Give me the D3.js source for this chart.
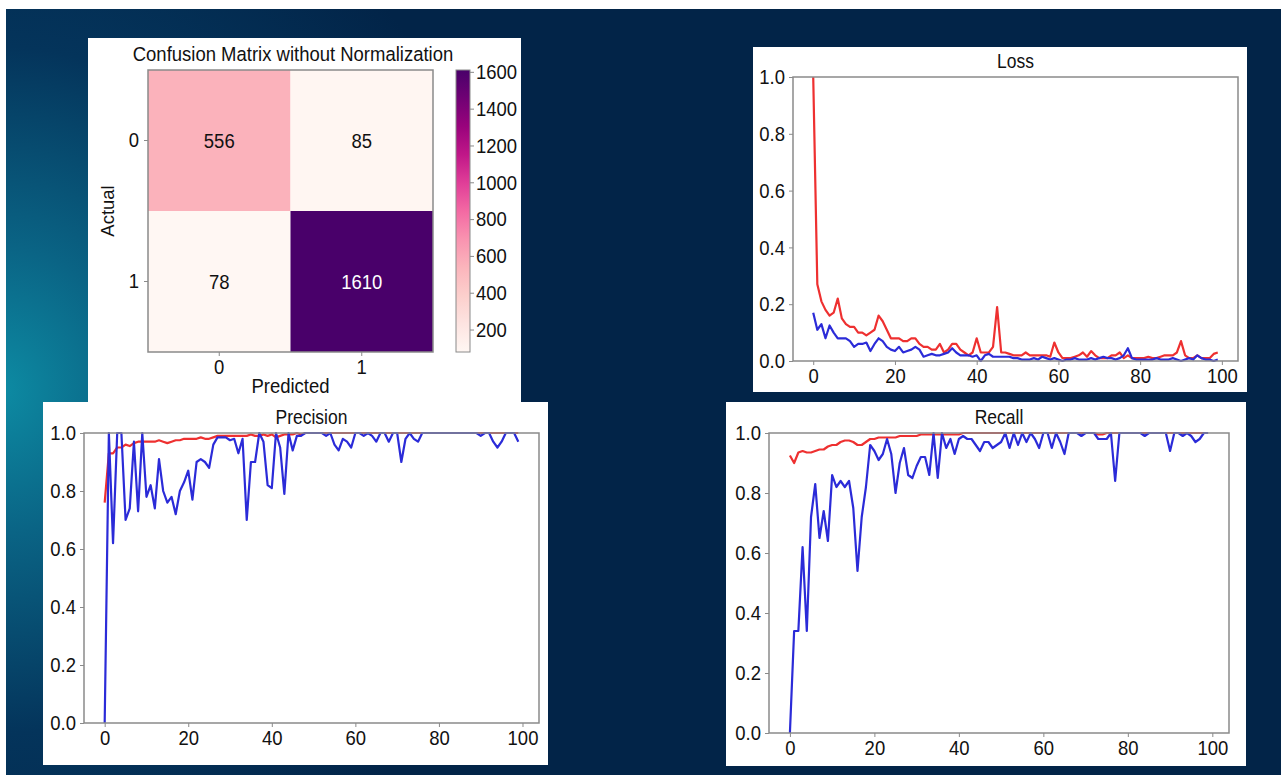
<!DOCTYPE html>
<html lang="en">
<head>
    <meta charset="UTF-8">
    <title>Model metrics</title>
    <script src="https://d3js.org/d3.v7.min.js"></script>
    <style>
        body { margin: 0; padding: 0; background: #fff; }
        svg text { font-family: "Liberation Sans", Arial, sans-serif; fill: #111; }
        /* the source picture is slightly stretched vertically */
        svg text:not(.rot) { transform-box: fill-box; transform-origin: center; transform: scaleY(1.12); }
        .frame { fill: none; stroke: #8a8a8a; stroke-width: 1.5px; }
        .tick line { stroke: #8a8a8a; }
        .domain { display: none; }
    </style>
</head>
<body>
<div id="chart"></div>
<script>
    // confusion matrix
    const cmLabels = ["0", "1"];
    const cmValues = [[556, 85], [78, 1610]];
    const cbTicks = [200, 400, 600, 800, 1000, 1200, 1400, 1600];

    // training curves, epochs 0..99
    const epochs = d3.range(100);
    const xTicks = [0, 20, 40, 60, 80, 100];
    const yTicks = [0, 0.2, 0.4, 0.6, 0.8, 1.0];

    const lossTrain = [1.0, 0.27, 0.21, 0.18, 0.16, 0.17, 0.22, 0.15, 0.13, 0.12,
        0.12, 0.10, 0.10, 0.09, 0.10, 0.11, 0.16, 0.14, 0.11, 0.08,
        0.08, 0.08, 0.07, 0.07, 0.08, 0.08, 0.06, 0.05, 0.05, 0.04,
        0.04, 0.06, 0.03, 0.04, 0.06, 0.06, 0.04, 0.03, 0.02, 0.03,
        0.08, 0.03, 0.03, 0.03, 0.05, 0.19, 0.03, 0.03, 0.025, 0.02,
        0.02, 0.02, 0.03, 0.02, 0.02, 0.02, 0.02, 0.02, 0.015, 0.065,
        0.03, 0.01, 0.01, 0.01, 0.015, 0.02, 0.03, 0.015, 0.035, 0.02,
        0.01, 0.01, 0.01, 0.02, 0.02, 0.03, 0.01, 0.02, 0.01, 0.01,
        0.01, 0.01, 0.015, 0.01, 0.01, 0.015, 0.02, 0.02, 0.02, 0.03,
        0.07, 0.02, 0.01, 0.01, 0.02, 0.01, 0.01, 0.01, 0.025, 0.03];
    const lossVal = [0.17, 0.11, 0.13, 0.08, 0.125, 0.10, 0.08, 0.08, 0.08, 0.07,
        0.05, 0.06, 0.06, 0.065, 0.035, 0.06, 0.08, 0.07, 0.05, 0.04,
        0.035, 0.05, 0.03, 0.035, 0.04, 0.05, 0.04, 0.015, 0.02, 0.025,
        0.02, 0.02, 0.025, 0.03, 0.045, 0.03, 0.02, 0.02, 0.02, 0.015,
        0.02, 0.0, 0.02, 0.025, 0.015, 0.015, 0.015, 0.015, 0.015, 0.01,
        0.01, 0.005, 0.005, 0.005, 0.01, 0.005, 0.015, 0.01, 0.005, 0.01,
        0.005, 0.0, 0.005, 0.005, 0.01, 0.005, 0.005, 0.005, 0.01, 0.005,
        0.01, 0.015, 0.01, 0.01, 0.005, 0.01, 0.02, 0.045, 0.01, 0.005,
        0.005, 0.005, 0.005, 0.005, 0.01, 0.005, 0.005, 0.005, 0.01, 0.005,
        0.0, 0.005, 0.01, 0.005, 0.02, 0.01, 0.005, 0.005, 0.0, 0.005];

    const precTrain = [0.76, 0.93, 0.93, 0.95, 0.95, 0.96, 0.955, 0.965, 0.97, 0.97,
        0.97, 0.97, 0.97, 0.975, 0.97, 0.965, 0.97, 0.975, 0.975, 0.98,
        0.98, 0.98, 0.98, 0.985, 0.98, 0.98, 0.985, 0.99, 0.99, 0.99,
        0.99, 0.99, 0.99, 0.99, 0.99, 0.995, 0.99, 0.99, 0.995, 0.99,
        0.995, 0.985, 0.99, 0.995, 0.995, 0.995, 1.0, 0.995, 1.0, 1.0,
        1.0, 1.0, 1.0, 1.0, 1.0, 1.0, 1.0, 1.0, 1.0, 1.0,
        1.0, 1.0, 1.0, 1.0, 1.0, 1.0, 1.0, 1.0, 1.0, 1.0,
        1.0, 1.0, 1.0, 1.0, 1.0, 1.0, 1.0, 1.0, 1.0, 1.0,
        1.0, 1.0, 1.0, 1.0, 1.0, 1.0, 1.0, 1.0, 1.0, 1.0,
        1.0, 1.0, 1.0, 1.0, 1.0, 1.0, 1.0, 1.0, 1.0, 1.0];
    const precVal = [0.0, 1.0, 0.62, 1.0, 1.0, 0.70, 0.74, 0.97, 0.73, 1.0,
        0.78, 0.82, 0.74, 0.91, 0.80, 0.76, 0.78, 0.72, 0.80, 0.83,
        0.87, 0.77, 0.90, 0.91, 0.90, 0.88, 0.96, 0.985, 0.985, 0.985,
        0.975, 0.98, 0.93, 0.98, 0.70, 0.90, 0.90, 1.0, 0.97, 0.82,
        0.81, 1.0, 0.95, 0.79, 1.0, 0.94, 0.99, 0.99, 1.0, 1.0,
        1.0, 1.0, 1.0, 0.99, 1.0, 0.96, 0.94, 0.98, 0.97, 0.95,
        1.0, 1.0, 0.99, 1.0, 0.99, 0.97, 1.0, 1.0, 0.97, 1.0,
        1.0, 0.90, 0.98, 1.0, 0.98, 0.97, 1.0, 1.0, 1.0, 1.0,
        1.0, 1.0, 1.0, 1.0, 1.0, 1.0, 1.0, 1.0, 1.0, 1.0,
        0.99, 1.0, 1.0, 0.97, 0.95, 0.97, 1.0, 1.0, 1.0, 0.97];

    const recTrain = [0.925, 0.90, 0.935, 0.94, 0.935, 0.935, 0.94, 0.945, 0.945, 0.955,
        0.96, 0.96, 0.97, 0.975, 0.975, 0.97, 0.96, 0.96, 0.97, 0.98,
        0.98, 0.985, 0.985, 0.985, 0.985, 0.985, 0.99, 0.99, 0.99, 0.99,
        0.99, 0.995, 0.995, 0.995, 0.995, 0.995, 0.995, 0.995, 0.995, 0.995,
        0.995, 1.0, 1.0, 1.0, 1.0, 1.0, 1.0, 1.0, 1.0, 1.0,
        1.0, 1.0, 1.0, 1.0, 1.0, 1.0, 1.0, 1.0, 1.0, 1.0,
        1.0, 1.0, 1.0, 1.0, 1.0, 1.0, 1.0, 1.0, 1.0, 1.0,
        1.0, 1.0, 1.0, 0.995, 0.995, 1.0, 1.0, 1.0, 1.0, 1.0,
        1.0, 1.0, 1.0, 1.0, 1.0, 1.0, 1.0, 1.0, 1.0, 1.0,
        1.0, 1.0, 1.0, 1.0, 1.0, 1.0, 1.0, 1.0, 1.0, 1.0];
    const recVal = [0.0, 0.34, 0.34, 0.62, 0.34, 0.72, 0.83, 0.65, 0.74, 0.64,
        0.86, 0.82, 0.84, 0.82, 0.84, 0.75, 0.54, 0.72, 0.82, 0.96,
        0.94, 0.91, 0.93, 0.98, 0.93, 0.80, 0.90, 0.95, 0.86, 0.85,
        0.89, 0.92, 0.92, 0.86, 1.0, 0.85, 1.0, 0.95, 0.98, 0.93,
        0.98, 0.99, 0.98, 0.98, 0.96, 0.94, 0.97, 0.97, 0.95, 0.96,
        0.97, 1.0, 0.95, 1.0, 0.96, 1.0, 0.97, 1.0, 0.98, 0.95,
        1.0, 1.0, 0.95, 1.0, 0.97, 0.93, 1.0, 1.0, 1.0, 0.99,
        1.0, 1.0, 1.0, 0.98, 0.98, 0.98, 1.0, 0.84, 1.0, 1.0,
        1.0, 1.0, 1.0, 1.0, 0.99, 1.0, 1.0, 1.0, 1.0, 1.0,
        0.94, 1.0, 1.0, 0.99, 1.0, 0.99, 0.97, 0.98, 1.0, 1.0];

    const W = 1281, H = 775;
    const svg = d3.select("#chart").append("svg")
        .attr("width", W)
        .attr("height", H);

    // background: dark navy with a teal glow on the left
    const defs = svg.append("defs");
    const glow = defs.append("radialGradient")
        .attr("id", "glow")
        .attr("gradientUnits", "userSpaceOnUse")
        .attr("cx", 0).attr("cy", 390).attr("r", 520)
        .attr("gradientTransform", "translate(0,390) scale(1,1.1) translate(0,-390)");
    glow.append("stop").attr("offset", 0).attr("stop-color", "#0d8ba3");
    glow.append("stop").attr("offset", 0.25).attr("stop-color", "#0a6485");
    glow.append("stop").attr("offset", 0.6).attr("stop-color", "#04345b");
    glow.append("stop").attr("offset", 1).attr("stop-color", "#022448");

    svg.append("rect").attr("width", W).attr("height", H).attr("fill", "#fff");
    svg.append("rect")
        .attr("x", 6).attr("y", 9)
        .attr("width", W - 6).attr("height", H - 9)
        .attr("fill", "url(#glow)");

    // white panels
    const panels = [
        [88, 38, 433, 364],   // confusion matrix
        [753, 47, 494, 345],  // loss
        [43, 402, 505, 363],  // precision
        [726, 402, 520, 364]  // recall
    ];
    svg.selectAll("rect.panel")
        .data(panels)
        .join("rect")
        .attr("class", "panel")
        .attr("x", d => d[0]).attr("y", d => d[1])
        .attr("width", d => d[2]).attr("height", d => d[3])
        .attr("fill", "#fff");

    const FS = 18.5;

    // ---------- confusion matrix ----------
    const cm = { left: 148, right: 433, top: 70, bottom: 352 };
    const flat = [];
    cmValues.forEach((row, i) => row.forEach((v, j) => flat.push({ i, j, v })));
    const vMin = d3.min(flat, d => d.v), vMax = d3.max(flat, d => d.v);

    const cx = d3.scaleBand().domain(cmLabels).range([cm.left, cm.right]);
    const cy = d3.scaleBand().domain(cmLabels).range([cm.top, cm.bottom]);
    const color = d3.scaleSequential(d3.interpolateRdPu).domain([vMin, vMax]);

    const gcm = svg.append("g");
    gcm.selectAll("rect.cell")
        .data(flat)
        .join("rect")
        .attr("class", "cell")
        .attr("x", d => cx(cmLabels[d.j]))
        .attr("y", d => cy(cmLabels[d.i]))
        .attr("width", cx.bandwidth())
        .attr("height", cy.bandwidth())
        .attr("fill", d => color(d.v));

    gcm.selectAll("text.val")
        .data(flat)
        .join("text")
        .attr("class", "val")
        .attr("x", d => cx(cmLabels[d.j]) + cx.bandwidth() / 2)
        .attr("y", d => cy(cmLabels[d.i]) + cy.bandwidth() / 2)
        .attr("dy", "0.35em")
        .attr("text-anchor", "middle")
        .style("font-size", FS + "px")
        .style("fill", d => d.v > vMax / 2 ? "#fff" : "#111")
        .text(d => d.v);

    gcm.append("rect").attr("class", "frame")
        .attr("x", cm.left).attr("y", cm.top)
        .attr("width", cm.right - cm.left).attr("height", cm.bottom - cm.top);

    const cmXAxis = d3.axisBottom(cx).tickSize(4).tickPadding(4);
    gcm.append("g")
        .attr("transform", `translate(0,${cm.bottom})`)
        .call(cmXAxis)
        .selectAll("text").style("font-size", FS + "px");
    const cmYAxis = d3.axisLeft(cy).tickSize(4).tickPadding(5);
    gcm.append("g")
        .attr("transform", `translate(${cm.left},0)`)
        .call(cmYAxis)
        .selectAll("text").style("font-size", FS + "px");

    gcm.append("text")
        .attr("x", 293).attr("y", 60)
        .attr("text-anchor", "middle")
        .style("font-size", FS + "px")
        .text("Confusion Matrix without Normalization");
    gcm.append("text")
        .attr("x", (cm.left + cm.right) / 2).attr("y", 392)
        .attr("text-anchor", "middle")
        .style("font-size", FS + "px")
        .text("Predicted");
    gcm.append("text")
        .attr("class", "rot")
        .attr("transform", `translate(114,${(cm.top + cm.bottom) / 2}) rotate(-90)`)
        .attr("text-anchor", "middle")
        .style("font-size", FS + "px")
        .text("Actual");

    // colorbar
    const cb = { left: 456, right: 470, top: 70, bottom: 352 };
    const cbScale = d3.scaleLinear().domain([vMin, vMax]).range([cb.bottom, cb.top]);
    const cbGrad = defs.append("linearGradient")
        .attr("id", "cbgrad")
        .attr("x1", 0).attr("y1", 1).attr("x2", 0).attr("y2", 0);
    d3.range(0, 1.0001, 0.1).forEach(t => {
        cbGrad.append("stop").attr("offset", t).attr("stop-color", d3.interpolateRdPu(t));
    });
    gcm.append("rect")
        .attr("x", cb.left).attr("y", cb.top)
        .attr("width", cb.right - cb.left).attr("height", cb.bottom - cb.top)
        .attr("fill", "url(#cbgrad)");
    gcm.append("rect").attr("class", "frame")
        .attr("x", cb.left).attr("y", cb.top)
        .attr("width", cb.right - cb.left).attr("height", cb.bottom - cb.top)
        .style("stroke-width", "1px");
    gcm.append("g")
        .attr("transform", `translate(${cb.right},0)`)
        .call(d3.axisRight(cbScale).tickValues(cbTicks).tickFormat(d3.format("d")).tickSize(4).tickPadding(2))
        .selectAll("text").style("font-size", FS + "px");

    // ---------- line charts ----------
    function lineChart(opt) {
        const g = svg.append("g");
        const x = d3.scaleLinear().domain([-4.95, 103.95]).range([opt.left, opt.right]);
        const y = d3.scaleLinear().domain([0, 1]).range([opt.bottom, opt.top]);

        g.append("g")
            .attr("transform", `translate(0,${opt.bottom})`)
            .call(d3.axisBottom(x).tickValues(xTicks).tickSize(4).tickPadding(4))
            .selectAll("text").style("font-size", FS + "px");
        g.append("g")
            .attr("transform", `translate(${opt.left},0)`)
            .call(d3.axisLeft(y).tickValues(yTicks).tickFormat(d3.format(".1f")).tickSize(4).tickPadding(4))
            .selectAll("text").style("font-size", FS + "px");

        const clipId = "clip-" + opt.name;
        defs.append("clipPath").attr("id", clipId)
            .append("rect")
            .attr("x", opt.left).attr("y", opt.top - 1)
            .attr("width", opt.right - opt.left).attr("height", opt.bottom - opt.top + 2);

        const line = d3.line().x((d, i) => x(epochs[i])).y(d => y(d));
        const lines = g.append("g").attr("clip-path", `url(#${clipId})`);
        lines.append("path")
            .attr("d", line(opt.train))
            .attr("fill", "none")
            .attr("stroke", "#ee3030")
            .attr("stroke-width", 2.2)
            .attr("stroke-linejoin", "round");
        lines.append("path")
            .attr("d", line(opt.val))
            .attr("fill", "none")
            .attr("stroke", "#2b2bd8")
            .attr("stroke-width", 2.2)
            .attr("stroke-linejoin", "round");

        g.append("rect").attr("class", "frame")
            .attr("x", opt.left).attr("y", opt.top)
            .attr("width", opt.right - opt.left).attr("height", opt.bottom - opt.top);

        g.append("text")
            .attr("x", (opt.left + opt.right) / 2).attr("y", opt.top - 10)
            .attr("text-anchor", "middle")
            .style("font-size", (FS - 1) + "px")
            .text(opt.title);
    }

    lineChart({ name: "loss", title: "Loss", left: 793, right: 1238, top: 77, bottom: 361,
        train: lossTrain, val: lossVal });
    lineChart({ name: "prec", title: "Precision", left: 84, right: 539, top: 433, bottom: 723,
        train: precTrain, val: precVal });
    lineChart({ name: "rec", title: "Recall", left: 769, right: 1229, top: 433, bottom: 733,
        train: recTrain, val: recVal });
</script>
</body>
</html>
